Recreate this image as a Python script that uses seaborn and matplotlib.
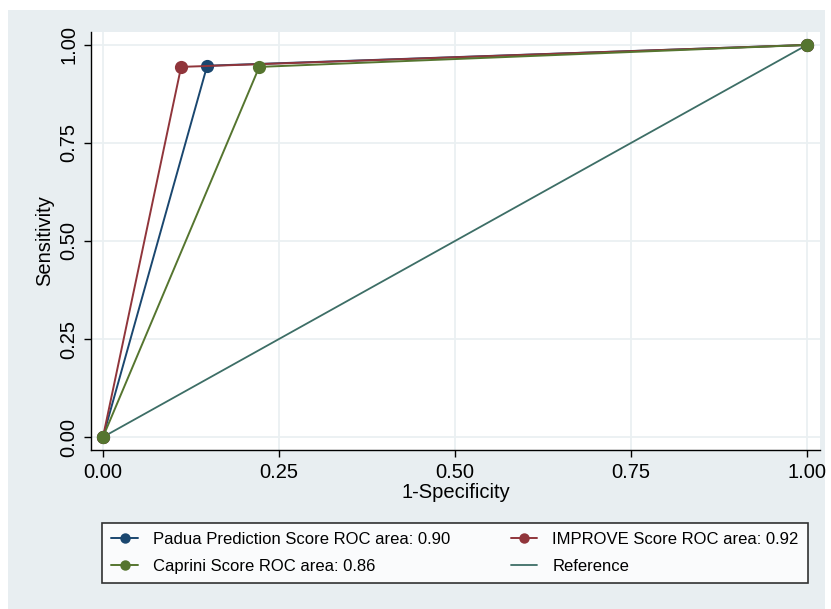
import pandas as pd
import seaborn as sns
import matplotlib.pyplot as plt
from matplotlib.lines import Line2D
from matplotlib.patches import Rectangle

# ROC points: (0,0) -> cut point -> (1,1)
fpr_padua = [0.0, 0.148, 1.0]
tpr_padua = [0.0, 0.947, 1.0]
fpr_improve = [0.0, 0.111, 1.0]
tpr_improve = [0.0, 0.944, 1.0]
fpr_caprini = [0.0, 0.222, 1.0]
tpr_caprini = [0.0, 0.944, 1.0]
ref_x = [0.0, 1.0]
ref_y = [0.0, 1.0]

labels = ["Padua Prediction Score ROC area: 0.90",
          "IMPROVE Score ROC area: 0.92",
          "Caprini Score ROC area: 0.86",
          "Reference"]
ticks = [0.0, 0.25, 0.5, 0.75, 1.0]
tick_labels = ["0.00", "0.25", "0.50", "0.75", "1.00"]

colors = ["#1A476F", "#90353B", "#55752F", "#3D6E66"]
bg = "#E8EEF1"
grid_c = "#EAF0F2"

sns.set_style("white")
plt.rcParams["font.family"] = ["Liberation Sans", "DejaVu Sans"]
plt.rcParams["text.color"] = "black"
plt.rcParams["axes.labelcolor"] = "black"

df = pd.concat([
    pd.DataFrame({"x": fpr_padua, "y": tpr_padua, "curve": labels[0]}),
    pd.DataFrame({"x": fpr_improve, "y": tpr_improve, "curve": labels[1]}),
    pd.DataFrame({"x": fpr_caprini, "y": tpr_caprini, "curve": labels[2]}),
], ignore_index=True)

fig = plt.figure(figsize=(8.31, 6.09), dpi=100)
fig.patch.set_facecolor("white")
fig.patches.append(Rectangle((8 / 831, 0), 817 / 831, 599 / 609,
                             transform=fig.transFigure, facecolor=bg,
                             edgecolor="none", zorder=-10))
ax = fig.add_axes([91 / 831, 1 - 450 / 609, 729 / 831, 418 / 609])
ax.set_facecolor("white")

# reference diagonal first
sns.lineplot(x=ref_x, y=ref_y, ax=ax, color=colors[3], lw=1.3, zorder=2)
for i, lab in enumerate(labels[:3]):
    sns.lineplot(data=df[df["curve"] == lab], x="x", y="y", ax=ax, sort=False,
                 color=colors[i], lw=1.4, marker="o", markersize=9.5,
                 markeredgewidth=0, zorder=3 + i)

ax.set_xlim(-0.017, 1.0185)
ax.set_ylim(-0.033, 1.033)
ax.set_xticks(ticks)
ax.set_xticklabels(tick_labels, fontsize=14.5)
ax.set_yticks(ticks)
ax.set_yticklabels(tick_labels, fontsize=14.5, rotation=90, va="center")
ax.grid(True, color=grid_c, lw=1.3, zorder=0)
ax.set_axisbelow(True)
ax.tick_params(axis="both", direction="out", length=5, width=1, colors="black",
               pad=4, bottom=True, left=True)
for s in ["top", "right"]:
    ax.spines[s].set_visible(False)
for s in ["left", "bottom"]:
    ax.spines[s].set_color("black")
    ax.spines[s].set_linewidth(1)
ax.set_xlabel("1-Specificity", fontsize=14.5, labelpad=1)
ax.set_ylabel("Sensitivity", fontsize=14.5, labelpad=4)

handles = [Line2D([], [], color=colors[i], lw=1.4, marker="o", markersize=7.5,
                  markeredgewidth=0) for i in range(3)]
handles.append(Line2D([], [], color=colors[3], lw=1.3))
order = [0, 2, 1, 3]
leg = fig.legend([handles[i] for i in order], [labels[i] for i in order],
                 ncol=2, loc="center",
                 bbox_to_anchor=(102 / 831, 1 - 587 / 609, 706 / 831, 68 / 609),
                 mode="expand", fontsize=12, frameon=True, fancybox=False,
                 edgecolor="black", handlelength=1.6, handletextpad=0.9,
                 labelspacing=0.75, borderpad=0.55, borderaxespad=0,
                 labelcolor="black")
leg.get_frame().set_linewidth(1.2)
leg.get_frame().set_facecolor("white")

fig.savefig("out.png", dpi=100, facecolor=fig.get_facecolor())
